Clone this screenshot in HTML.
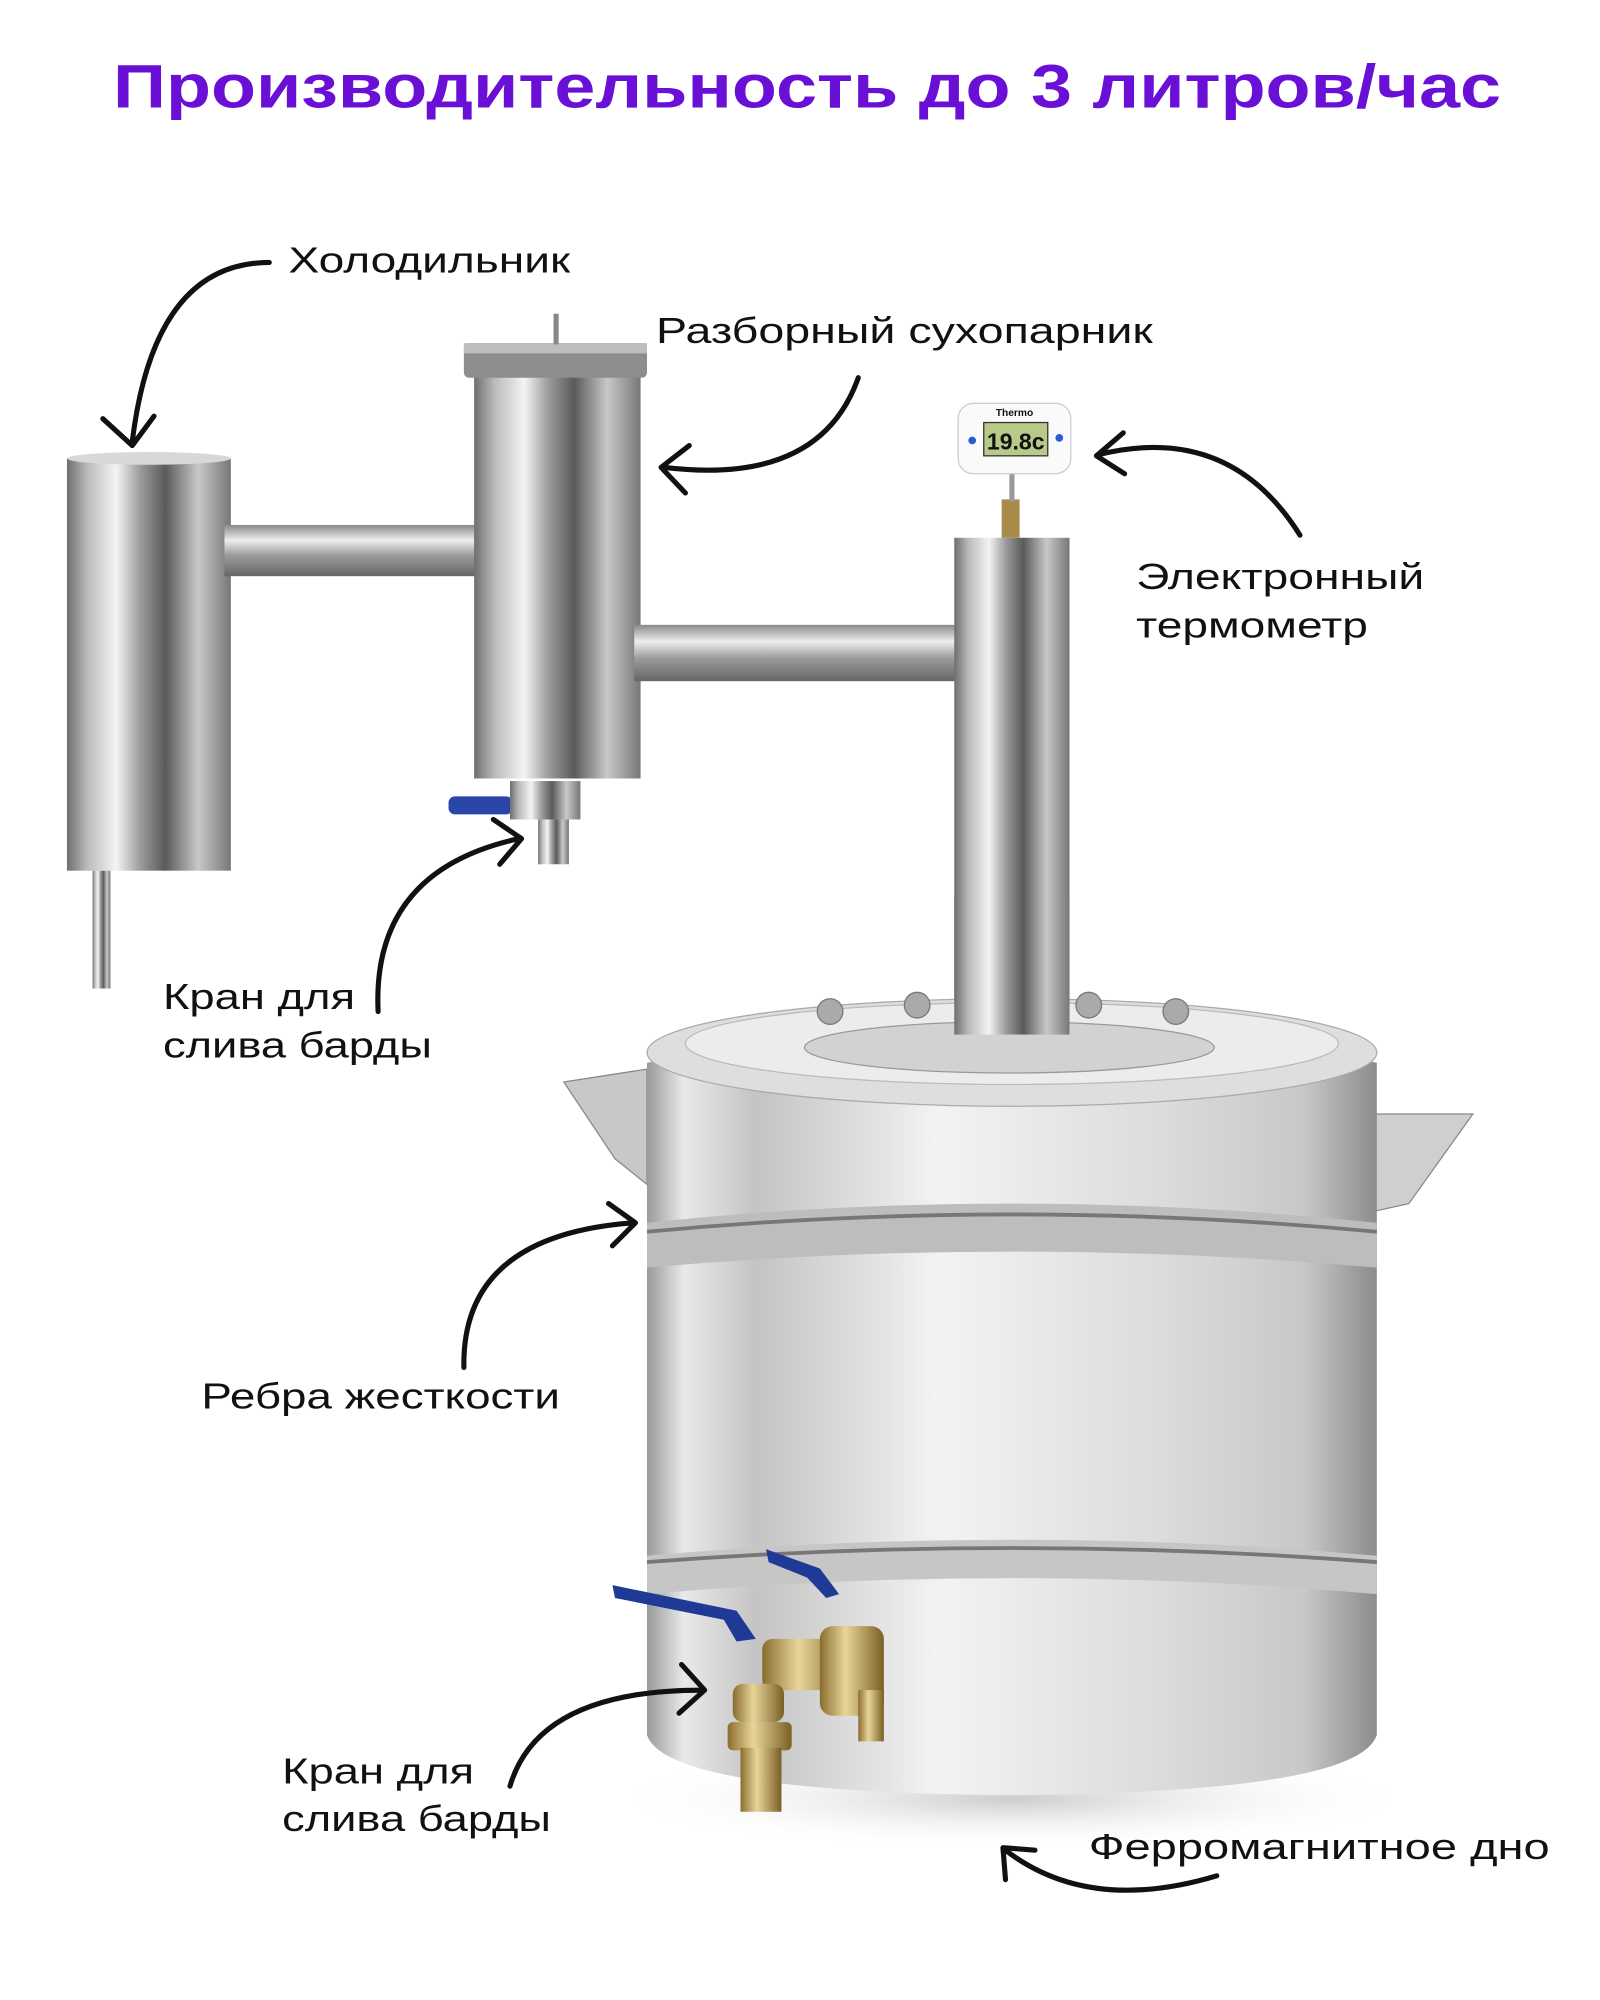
<!DOCTYPE html>
<html><head><meta charset="utf-8"><style>
html,body{margin:0;padding:0;background:#fff;}
svg{display:block}
text{font-family:"Liberation Sans","DejaVu Sans",sans-serif;fill:#111;}
</style></head><body>
<svg width="1600" height="2000" viewBox="0 0 1249 1562" xmlns="http://www.w3.org/2000/svg">
<defs>
<linearGradient id="m" x1="0" x2="1" y1="0" y2="0">
<stop offset="0" stop-color="#6e6e6e"/><stop offset="0.12" stop-color="#b9b9b9"/><stop offset="0.3" stop-color="#f4f4f4"/><stop offset="0.45" stop-color="#9a9a9a"/><stop offset="0.6" stop-color="#5a5a5a"/><stop offset="0.8" stop-color="#c8c8c8"/><stop offset="1" stop-color="#777"/>
</linearGradient>
<linearGradient id="h" x1="0" x2="0" y1="0" y2="1">
<stop offset="0" stop-color="#8a8a8a"/><stop offset="0.3" stop-color="#eee"/><stop offset="0.6" stop-color="#9a9a9a"/><stop offset="1" stop-color="#666"/>
</linearGradient>
<linearGradient id="pot" x1="0" x2="1" y1="0" y2="0">
<stop offset="0" stop-color="#9a9a9a"/><stop offset="0.05" stop-color="#e9e9e9"/><stop offset="0.15" stop-color="#c4c4c4"/><stop offset="0.4" stop-color="#f3f3f3"/><stop offset="0.7" stop-color="#dcdcdc"/><stop offset="0.9" stop-color="#c8c8c8"/><stop offset="1" stop-color="#8c8c8c"/>
</linearGradient>
<linearGradient id="brass" x1="0" x2="1"><stop offset="0" stop-color="#8a6d2e"/><stop offset="0.4" stop-color="#e8d59a"/><stop offset="1" stop-color="#7a5e24"/></linearGradient>
<radialGradient id="sh" cx="0.5" cy="0.5" r="0.5"><stop offset="0" stop-color="#ccc"/><stop offset="1" stop-color="#fff" stop-opacity="0"/></radialGradient>
</defs>

<text x="630" y="84" text-anchor="middle" font-size="48" font-weight="bold" style="fill:#6a10d6" textLength="1084" lengthAdjust="spacingAndGlyphs">Производительность до 3 литров/час</text>

<rect x="72" y="680" width="14" height="92" fill="url(#m)"/>
<rect x="52" y="358" width="128" height="322" fill="url(#m)"/>
<ellipse cx="116" cy="358" rx="64" ry="5" fill="#d8d8d8"/>
<rect x="175" y="410" width="205" height="40" fill="url(#h)"/>
<rect x="370" y="290" width="130" height="318" fill="url(#m)"/>
<rect x="362" y="268" width="143" height="27" rx="4" fill="#8d8d8d"/>
<rect x="362" y="268" width="143" height="8" fill="#bdbdbd"/>
<rect x="432" y="245" width="4" height="24" fill="#888"/>
<rect x="350" y="622" width="50" height="14" rx="5" fill="#2a45a8"/>
<rect x="398" y="610" width="55" height="30" fill="url(#m)"/>
<rect x="420" y="640" width="24" height="35" fill="url(#m)"/>
<rect x="495" y="488" width="255" height="44" fill="url(#h)"/>
<rect x="745" y="420" width="90" height="388" fill="url(#m)"/>
<rect x="782" y="390" width="14" height="30" fill="#a88a4a"/>
<rect x="788" y="368" width="4" height="24" fill="#999"/>
<rect x="748" y="315" width="88" height="55" rx="12" fill="#fafafa" stroke="#ccc"/>
<text x="792" y="325" text-anchor="middle" font-size="8" font-weight="bold">Thermo</text>
<rect x="768" y="330" width="50" height="26" fill="#b8c98a" stroke="#333"/>
<text x="793" y="351" text-anchor="middle" font-size="18" font-weight="bold">19.8c</text>
<circle cx="759" cy="344" r="3" fill="#2b5bd0"/><circle cx="827" cy="342" r="3" fill="#2b5bd0"/>

<ellipse cx="790" cy="1405" rx="320" ry="40" fill="url(#sh)"/>
<path d="M440 845 L505 835 L505 925 L480 905 Z" fill="#c8c8c8" stroke="#888"/>
<path d="M965 880 L1075 870 L1150 870 L1100 940 L965 970 Z" fill="#cfcfcf" stroke="#888"/>
<path d="M505 830 Q790 770 1075 830 L1075 1355 Q1060 1400 790 1402 Q520 1400 505 1355 Z" fill="url(#pot)"/>
<ellipse cx="790" cy="822" rx="285" ry="42" fill="#dedede" stroke="#aaa"/>
<ellipse cx="790" cy="815" rx="255" ry="32" fill="#ececec" stroke="#bbb"/>
<ellipse cx="788" cy="818" rx="160" ry="20" fill="#d2d2d2" stroke="#999"/>
<rect x="745" y="700" width="90" height="108" fill="url(#m)"/>
<g fill="#aaa" stroke="#777"><circle cx="648" cy="790" r="10"/><circle cx="716" cy="785" r="10"/><circle cx="850" cy="785" r="10"/><circle cx="918" cy="790" r="10"/></g>
<path d="M505 955 Q790 925 1075 955 L1075 990 Q790 965 505 990 Z" fill="#bdbdbd"/>
<path d="M505 962 Q790 935 1075 962" fill="none" stroke="#777" stroke-width="3"/>
<path d="M505 1215 Q790 1190 1075 1215 L1075 1245 Q790 1220 505 1245 Z" fill="#c6c6c6"/>
<path d="M505 1220 Q790 1198 1075 1220" fill="none" stroke="#777" stroke-width="3"/>
<path d="M478 1238 L575 1258 L590 1280 L575 1282 L565 1265 L480 1248 Z" fill="#1f3a96"/>
<path d="M598 1210 L640 1225 L655 1245 L645 1248 L630 1232 L600 1220 Z" fill="#1f3a96"/>
<rect x="595" y="1280" width="70" height="40" rx="8" fill="url(#brass)"/>
<rect x="640" y="1270" width="50" height="70" rx="10" fill="url(#brass)"/>
<rect x="572" y="1315" width="40" height="30" rx="8" fill="url(#brass)"/>
<rect x="568" y="1345" width="50" height="22" rx="4" fill="url(#brass)"/>
<rect x="578" y="1365" width="32" height="50" fill="url(#brass)"/>
<rect x="670" y="1320" width="20" height="40" fill="url(#brass)"/>

<g fill="none" stroke="#111" stroke-width="4" stroke-linecap="round" stroke-linejoin="round">
<path d="M210 205 Q120 205 103 345"/><path d="M80 327 L103 348 L120 325"/>
<path d="M670 295 Q640 380 518 365"/><path d="M538 348 L516 365 L535 385"/>
<path d="M1015 418 Q960 330 858 355"/><path d="M877 338 L856 356 L878 370"/>
<path d="M295 790 Q290 680 405 655"/><path d="M385 640 L407 655 L390 675"/>
<path d="M362 1068 Q360 965 494 955"/><path d="M475 940 L496 955 L478 973"/>
<path d="M398 1395 Q420 1320 548 1320"/><path d="M532 1300 L550 1320 L530 1338"/>
<path d="M950 1465 Q850 1495 785 1445"/><path d="M785 1468 L783 1443 L808 1445"/>
</g>

<g font-size="28">
<text x="225" y="213" textLength="220" lengthAdjust="spacingAndGlyphs">Холодильник</text>
<text x="512" y="268" textLength="388" lengthAdjust="spacingAndGlyphs">Разборный сухопарник</text>
<text x="887" y="460" textLength="225" lengthAdjust="spacingAndGlyphs">Электронный</text>
<text x="887" y="498" textLength="181" lengthAdjust="spacingAndGlyphs">термометр</text>
<text x="127" y="788" textLength="150" lengthAdjust="spacingAndGlyphs">Кран для</text>
<text x="127" y="826" textLength="210" lengthAdjust="spacingAndGlyphs">слива барды</text>
<text x="157" y="1100" textLength="280" lengthAdjust="spacingAndGlyphs">Ребра жесткости</text>
<text x="220" y="1393" textLength="150" lengthAdjust="spacingAndGlyphs">Кран для</text>
<text x="220" y="1430" textLength="210" lengthAdjust="spacingAndGlyphs">слива барды</text>
<text x="850" y="1452" textLength="360" lengthAdjust="spacingAndGlyphs">Ферромагнитное дно</text>
</g>
</svg>
</body></html>
